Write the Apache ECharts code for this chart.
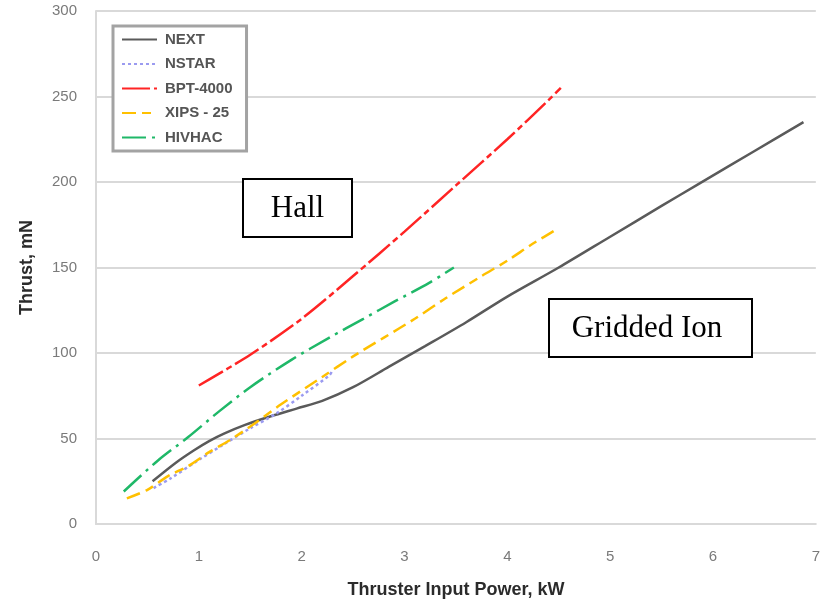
<!DOCTYPE html>
<html>
<head>
<meta charset="utf-8">
<title>Thrust vs Input Power</title>
<script src="https://cdn.jsdelivr.net/npm/echarts@6/dist/echarts.min.js"></script>
<style>
  html, body { margin: 0; padding: 0; background: #ffffff; }
  #chart { width: 823px; height: 604px; }
</style>
</head>
<body>
<div id="chart"></div>
<script>
// Thruster input power (kW) and thrust (mN) for each thruster
const nextPower   = [0.55, 0.78, 0.95, 1.1, 1.25, 1.45, 1.7, 1.95, 2.2, 2.5, 2.85, 3.2, 3.6, 4.0, 4.5, 5.0, 5.5, 5.85, 6.4, 6.88];
const nextThrust  = [25, 36, 43, 48.5, 53, 58, 63, 67.5, 72, 80, 92, 104, 118, 133, 150, 168, 186, 198.5, 218, 235];

const nstarPower  = [0.56, 0.72, 1.0, 1.24, 1.5, 1.75, 2.0, 2.27, 2.3];
const nstarThrust = [21, 26.5, 37.5, 46.5, 56, 64.5, 75, 87, 90];

const bptPower    = [1.0, 1.5, 2.0, 2.5, 3.0, 3.5, 4.0, 4.42, 4.52];
const bptThrust   = [81, 99, 120, 145, 171, 198, 225, 249, 255];

const xipsPower   = [0.3, 0.5, 0.7, 0.9, 1.1, 1.3, 1.5, 1.8, 2.2, 2.5, 2.8, 3.1, 3.4, 3.75, 4.0, 4.25, 4.5];
const xipsThrust  = [15, 20, 28, 34, 42, 49, 57, 70, 86, 98, 109, 120, 132, 145, 154, 164, 173];

const hivhacPower  = [0.27, 0.6, 0.9, 1.2, 1.5, 1.9, 2.27, 2.6, 2.9, 3.24, 3.48];
const hivhacThrust = [19, 37, 51, 66, 80, 96, 109, 120, 130, 141, 150];

const seriesNames = ['NEXT', 'NSTAR', 'BPT-4000', 'XIPS - 25', 'HIVHAC'];
const xTicks = [0, 1, 2, 3, 4, 5, 6, 7];
const yTicks = [0, 50, 100, 150, 200, 250, 300];
const annotations = ['Hall', 'Gridded Ion'];

function pairs(xs, ys) {
  return xs.map(function (x, i) { return [x, ys[i]]; });
}

const lineDefs = [
  { name: seriesNames[0], data: pairs(nextPower, nextThrust),     color: '#5a5a5a', type: 'solid' },
  { name: seriesNames[1], data: pairs(nstarPower, nstarThrust),   color: '#9b9bf0', type: [3, 3] },
  { name: seriesNames[2], data: pairs(bptPower, bptThrust),       color: '#ff2424', type: [28, 4, 6, 4] },
  { name: seriesNames[3], data: pairs(xipsPower, xipsThrust),     color: '#ffc000', type: [14, 6, 9, 6] },
  { name: seriesNames[4], data: pairs(hivhacPower, hivhacThrust), color: '#1fb868', type: [24, 6, 3, 6] }
];

const chart = echarts.init(document.getElementById('chart'), null, { renderer: 'canvas' });

const gridColor = '#d9d9d9';
const tickFont = { fontFamily: 'Liberation Sans', fontSize: 15, color: '#7a7a7a' };
const titleFont = { fontFamily: 'Liberation Sans', fontSize: 18, fontWeight: 'bold', color: '#2b2b2b' };

// white label box with a black frame, drawn above the gridlines
function labelBox(x, y, w, h, text, textX) {
  return {
    type: 'group', x: x, y: y,
    children: [
      { type: 'rect', z: 100, shape: { x: 0, y: 0, width: w, height: h },
        style: { fill: '#ffffff', stroke: '#000000', lineWidth: 2 } },
      { type: 'text', z: 101, x: textX, y: h / 2 + 1,
        style: { text: text, fontFamily: 'Liberation Serif', fontSize: 31,
                 fill: '#000000', align: 'center', verticalAlign: 'middle' } }
    ]
  };
}

chart.setOption({
  animation: false,
  backgroundColor: '#ffffff',
  grid: { left: 96, right: 6, top: 11, bottom: 80, containLabel: false },
  xAxis: {
    type: 'value',
    min: xTicks[0], max: xTicks[xTicks.length - 1], interval: 1,
    name: 'Thruster Input Power, kW',
    nameLocation: 'middle', nameGap: 57,
    nameTextStyle: titleFont,
    axisLine: { show: true, lineStyle: { color: gridColor, width: 2 } },
    axisTick: { show: false },
    axisLabel: Object.assign({ margin: 25 }, tickFont),
    splitLine: { show: false }
  },
  yAxis: {
    type: 'value',
    min: yTicks[0], max: yTicks[yTicks.length - 1], interval: 50,
    name: 'Thrust, mN',
    nameLocation: 'middle', nameGap: 60, nameRotate: 90,
    nameTextStyle: titleFont,
    axisLine: { show: true, lineStyle: { color: gridColor, width: 2 } },
    axisTick: { show: false },
    axisLabel: Object.assign({ margin: 19 }, tickFont),
    splitLine: { show: true, lineStyle: { color: gridColor, width: 2 } }
  },
  legend: {
    orient: 'vertical',
    left: 113, top: 26,
    data: seriesNames,
    itemWidth: 35, itemHeight: 10, itemGap: 9.5,
    padding: [6, 14, 6, 8],
    borderColor: '#a3a3a3', borderWidth: 3,
    backgroundColor: '#ffffff',
    // line sample only, no marker dot
    itemStyle: { color: 'rgba(0,0,0,0)', borderWidth: 0, opacity: 0 },
    textStyle: { fontFamily: 'Liberation Sans', fontSize: 15, fontWeight: 'bold', color: '#555555', padding: [0, 0, 0, 3] }
  },
  series: lineDefs.map(function (d) {
    return {
      name: d.name,
      type: 'line',
      data: d.data,
      smooth: 0.3,
      symbol: 'none',
      lineStyle: { color: d.color, width: 2.5, type: d.type },
      itemStyle: { color: d.color },
      z: 3
    };
  }),
  graphic: [
    labelBox(243, 179, 109, 58, annotations[0], 54.5),
    labelBox(549, 299, 203, 58, annotations[1], 98)
  ]
});
</script>
</body>
</html>
